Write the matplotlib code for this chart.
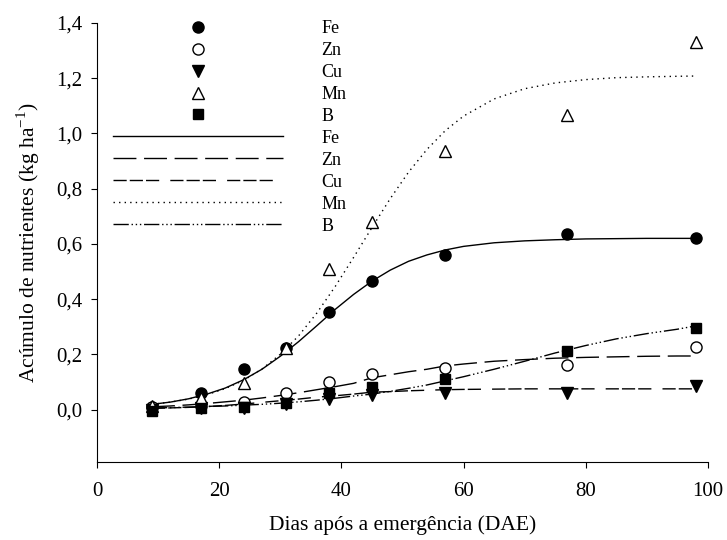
import matplotlib
matplotlib.use("Agg")
import matplotlib.pyplot as plt
import numpy as np

# ── Data ──────────────────────────────────────────────────
days = [9, 17, 24, 31, 38, 45, 57, 77, 98]

fe_obs = [0.010, 0.059, 0.148, 0.222, 0.355, 0.466, 0.558, 0.637, 0.620]
zn_obs = [0.010, 0.012, 0.026, 0.059, 0.099, 0.130, 0.149, 0.160, 0.228]
cu_obs = [0.000, 0.004, 0.005, 0.020, 0.040, 0.054, 0.060, 0.061, 0.085]
mn_obs = [0.012, 0.043, 0.095, 0.224, 0.510, 0.680, 0.935, 1.068, 1.330]
b_obs = [-0.004, 0.004, 0.008, 0.023, 0.059, 0.083, 0.112, 0.211, 0.295]

# fitted curves, read at these days
days_fit = [9, 12, 15, 18, 21, 24, 27, 30, 33, 36, 39, 42, 45, 48, 51, 54,
            57, 60, 65, 70, 75, 80, 85, 90, 95, 98]
fe_fit = [0.019, 0.027, 0.039, 0.056, 0.078, 0.108, 0.146, 0.193, 0.246,
          0.304, 0.363, 0.417, 0.465, 0.505, 0.537, 0.560, 0.578, 0.591,
          0.604, 0.611, 0.615, 0.618, 0.619, 0.620, 0.620, 0.620]
zn_fit = [0.010, 0.013, 0.017, 0.022, 0.028, 0.034, 0.042, 0.051, 0.061,
          0.072, 0.083, 0.095, 0.115, 0.126, 0.137, 0.146, 0.158, 0.165,
          0.175, 0.181, 0.186, 0.189, 0.191, 0.193, 0.194, 0.194]
cu_fit = [0.004, 0.006, 0.008, 0.011, 0.015, 0.020, 0.026, 0.032, 0.038,
          0.045, 0.050, 0.056, 0.063, 0.065, 0.068, 0.070, 0.072, 0.073,
          0.074, 0.075, 0.075, 0.075, 0.075, 0.075, 0.075, 0.075]
mn_fit = [0.019, 0.027, 0.038, 0.054, 0.076, 0.106, 0.147, 0.200, 0.267,
          0.350, 0.446, 0.551, 0.659, 0.764, 0.860, 0.942, 1.010, 1.063,
          1.125, 1.162, 1.183, 1.195, 1.202, 1.205, 1.207, 1.208]
b_fit = [0.006, 0.007, 0.009, 0.011, 0.013, 0.016, 0.019, 0.023, 0.028,
         0.034, 0.041, 0.049, 0.056, 0.066, 0.077, 0.089, 0.104, 0.119,
         0.146, 0.175, 0.205, 0.232, 0.256, 0.275, 0.291, 0.303]

yticks = [0.0, 0.2, 0.4, 0.6, 0.8, 1.0, 1.2, 1.4]
ytick_labels = ["0,0", "0,2", "0,4", "0,6", "0,8", "1,0", "1,2", "1,4"]
xticks = [0, 20, 40, 60, 80, 100]

# ── Style ─────────────────────────────────────────────────
plt.rcParams["font.family"] = ["Liberation Serif", "DejaVu Serif"]
plt.rcParams["mathtext.fontset"] = "custom"
plt.rcParams["mathtext.rm"] = "Liberation Serif"
plt.rcParams["lines.scale_dashes"] = False

fig = plt.figure(figsize=(7.27, 5.40), dpi=100)
ax = fig.add_axes([0.1334, 0.1444, 0.8404, 0.8130])

ms = 8
p_fe, = ax.plot(days, fe_obs, "o", color="black", ms=ms, label="Fe", zorder=3)
p_zn, = ax.plot(days, zn_obs, "o", mfc="white", mec="black", mew=1.0, ms=ms,
                label="Zn", zorder=3)
p_cu, = ax.plot(days, cu_obs, "v", color="black", ms=ms, label="Cu", zorder=3)
p_mn, = ax.plot(days, mn_obs, "^", mfc="white", mec="black", mew=1.0, ms=ms,
                label="Mn", zorder=3)
p_b, = ax.plot(days, b_obs, "s", color="black", ms=7, label="B", zorder=3)

lw = 1.0
l_fe, = ax.plot(days_fit, fe_fit, color="black", lw=lw, ls="-", label="Fe")
l_zn, = ax.plot(days_fit, zn_fit, color="black", lw=lw, ls=(0, (16.5, 5.5)), label="Zn")
l_cu, = ax.plot(days_fit, cu_fit, color="black", lw=lw,
                ls=(0, (9.5, 2.2, 9.5, 2.2, 9.5, 8)), label="Cu")
l_mn, = ax.plot(days_fit, mn_fit, color="black", lw=lw, ls=(0, (1, 3)), label="Mn")
l_b, = ax.plot(days_fit, b_fit, color="black", lw=lw,
               ls=(0, (11, 2, 1, 2, 1, 2, 1, 2)), label="B")

ax.set_xlim(0, 100)
ax.set_ylim(-0.19, 1.4)
ax.set_xticks(xticks)
ax.set_yticks(yticks)
ax.set_yticklabels(ytick_labels)
ax.tick_params(direction="out", length=4.5, width=0.8, labelsize=15, pad=6)
ax.tick_params(axis="x", pad=10)
for side in ("top", "right"):
    ax.spines[side].set_visible(False)
for side in ("left", "bottom"):
    ax.spines[side].set_linewidth(0.8)

ax.set_xlabel("Dias após a emergência (DAE)", fontsize=15.5, labelpad=10)
ax.set_ylabel("Acúmulo de nutrientes (kg ha$^{-1}$)", fontsize=15.5, labelpad=10)

handles = [p_fe, p_zn, p_cu, p_mn, p_b, l_fe, l_zn, l_cu, l_mn, l_b]
ax.legend(handles=handles, labels=[h.get_label() for h in handles],
          loc="upper left", bbox_to_anchor=(0.026, 1.007), frameon=False,
          numpoints=1, fontsize=13, handlelength=9.4, handletextpad=2.16,
          labelspacing=0.275, borderpad=0, borderaxespad=0)

fig.savefig("out.png", dpi=100)
